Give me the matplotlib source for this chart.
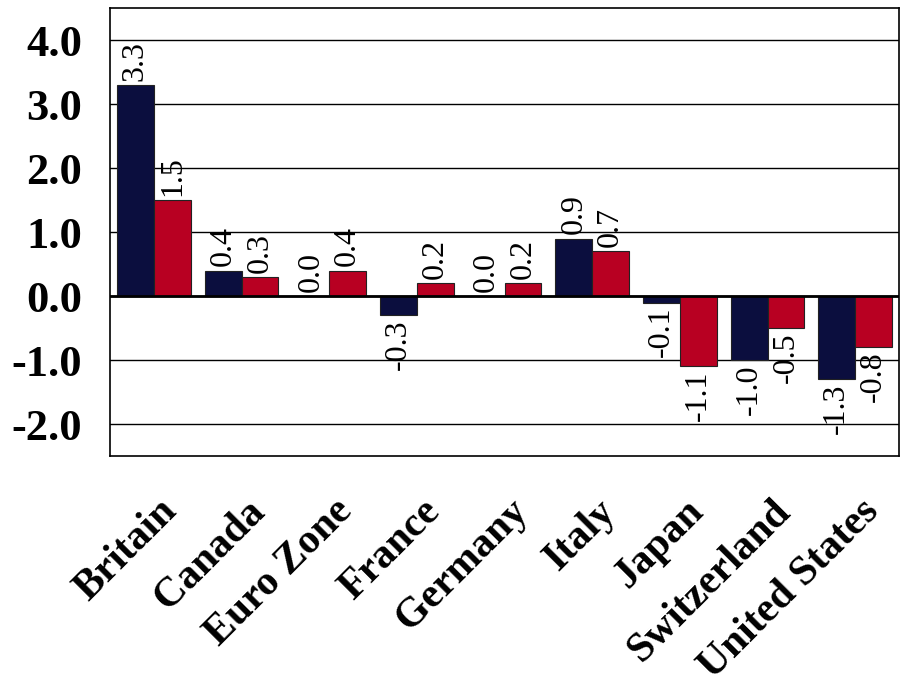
import matplotlib
matplotlib.use("Agg")
import matplotlib.pyplot as plt
import numpy as np
from matplotlib.transforms import ScaledTranslation

categories = ["Britain", "Canada", "Euro Zone", "France", "Germany", "Italy",
              "Japan", "Switzerland", "United States"]
series_a = [3.3, 0.4, 0.0, -0.3, 0.0, 0.9, -0.1, -1.0, -1.3]
series_b = [1.5, 0.3, 0.4, 0.2, 0.2, 0.7, -1.1, -0.5, -0.8]
yticks = [-2.0, -1.0, 0.0, 1.0, 2.0, 3.0, 4.0]

navy = "#0B0E3E"
red = "#B80022"
serif = ["Liberation Serif", "DejaVu Serif"]

fig = plt.figure(figsize=(9, 6.87), dpi=100)
ax = fig.add_axes([110/900, 1 - 456/687, 1 - 110/900 - 0.001, (456 - 8.3)/687])

x = np.arange(len(categories))
w = 0.42
ax.bar(x - w/2, series_a, w, color=navy, edgecolor="#222222", linewidth=0.8, zorder=3)
ax.bar(x + w/2, series_b, w, color=red, edgecolor="#222222", linewidth=0.8, zorder=3)

ax.set_xlim(-0.5, len(categories) - 0.5)
ax.set_ylim(-2.5, 4.5)
ax.set_yticks(yticks)
ax.set_yticklabels([f"{v:.1f}" for v in yticks], fontfamily=serif,
                   fontweight="bold", fontsize=32)
ax.tick_params(axis="y", length=0, pad=20)
ax.grid(axis="y", color="black", linewidth=1.0, zorder=0)
ax.axhline(0, color="black", linewidth=2.0, zorder=4)
for s in ax.spines.values():
    s.set_color("black")
    s.set_linewidth(1.2)

ax.set_xticks(x)
ax.set_xticklabels(categories, rotation=45, ha="right", va="top",
                   rotation_mode="anchor", fontfamily=serif,
                   fontweight="bold", fontsize=30)
ax.tick_params(axis="x", length=0, pad=0)
off = ScaledTranslation(4/100, -36/100, fig.dpi_scale_trans)
for lab in ax.get_xticklabels():
    lab.set_transform(lab.get_transform() + off)

def label(xpos, v):
    txt = f"{v:.1f}"
    if v >= 0:
        ax.annotate(txt, (xpos, v), xytext=(0, 3), textcoords="offset points",
                    rotation=90, ha="center", va="bottom", fontsize=23,
                    fontfamily=serif, zorder=5)
    else:
        ax.annotate(txt, (xpos, v), xytext=(0, -3), textcoords="offset points",
                    rotation=90, ha="center", va="top", fontsize=23,
                    fontfamily=serif, zorder=5)

for i in range(len(categories)):
    label(x[i] - w/2, series_a[i])
    label(x[i] + w/2, series_b[i])

fig.savefig("out.png", dpi=100)
